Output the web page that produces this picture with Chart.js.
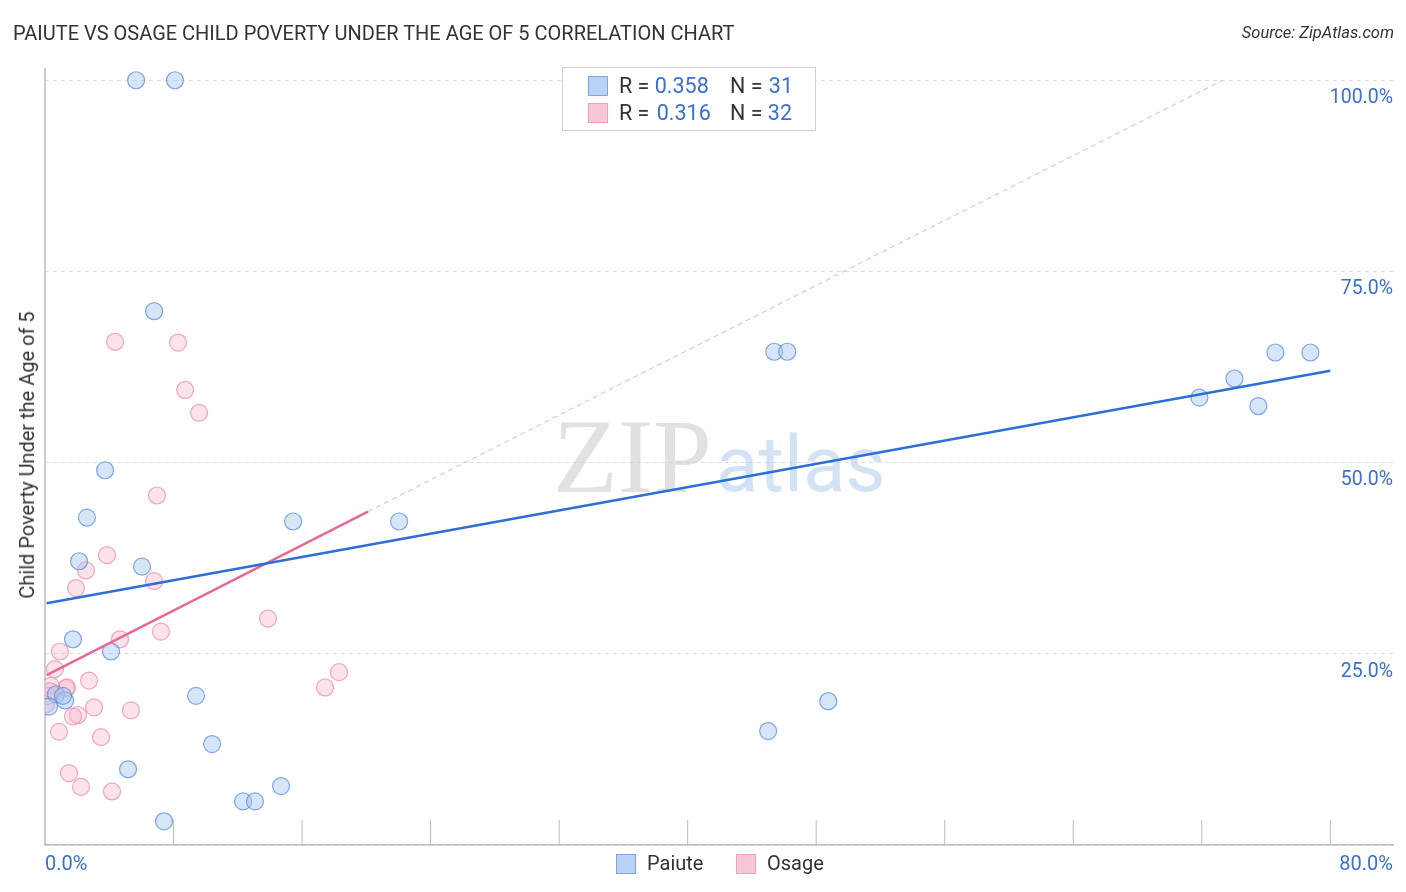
<!DOCTYPE html>
<html>
<head>
<meta charset="utf-8">
<script src="https://cdn.jsdelivr.net/npm/chart.js@4.4.1/dist/chart.umd.min.js"></script>
<style>
  body{margin:0;background:#fff;font-family:Roboto, "Open Sans", sans-serif;}
  #wrap{position:relative;width:1406px;height:892px;}
  #c{position:absolute;left:0;top:0;}
  .t{position:absolute;white-space:nowrap;}
  .sq{position:absolute;width:18px;height:18px;border:1px solid;}
  .blue{color:#3b6fd0;}
</style>
</head>
<body>
<div id="wrap">
  <canvas id="c" width="1406" height="892"></canvas>
  <div class="t" style="left:13px;top:21px;font-size:20px;color:#333;">PAIUTE VS OSAGE CHILD POVERTY UNDER THE AGE OF 5 CORRELATION CHART</div>
  <div class="t" style="right:12px;top:23px;font-size:16.5px;font-style:italic;color:#333;">Source: ZipAtlas.com</div>
  <div class="t" style="left:27px;top:455px;font-size:20px;color:#333;transform:translate(-50%,-50%) rotate(-90deg);">Child Poverty Under the Age of 5</div>

  <div style="position:absolute;left:562px;top:67px;width:252px;height:62px;border:1px solid #d0d0d0;background:rgba(255,255,255,0.9);"></div>
  <div class="sq" style="left:588px;top:76px;background:#b9d2f4;border-color:#7fa6e4;"></div>
  <div class="t" style="left:619px;top:73px;font-size:21.5px;color:#333;">R = <span class="blue">0.358</span></div>
  <div class="t" style="left:730px;top:73px;font-size:21.5px;color:#333;">N = <span class="blue" style="margin-left:1px">31</span></div>
  <div class="sq" style="left:588px;top:103px;background:#f9c6d5;border-color:#eea2b9;"></div>
  <div class="t" style="left:619px;top:100px;font-size:21.5px;color:#333;">R = <span class="blue" style="margin-left:2px">0.316</span></div>
  <div class="t" style="left:730px;top:100px;font-size:21.5px;color:#333;">N = <span class="blue">32</span></div>

  <div class="sq" style="left:616px;top:854px;background:#b9d2f4;border-color:#7fa6e4;"></div>
  <div class="t" style="left:647px;top:851px;font-size:20px;color:#333;">Paiute</div>
  <div class="sq" style="left:736px;top:854px;background:#f9c6d5;border-color:#eea2b9;"></div>
  <div class="t" style="left:767px;top:851px;font-size:20px;color:#333;">Osage</div>

  <div class="t blue" style="left:45px;top:851px;font-size:20px;">0.0%</div>
  <div class="t blue" style="right:13px;top:851px;font-size:20px;">80.0%</div>
</div>
<script>
// values (x = Paiute/Osage %, y = child poverty %)
const paiuteX = [5.67, 8.09, 6.79, 3.74, 2.61, 2.12, 6.04, 15.44, 22.04, 1.74, 4.11, 9.40, 10.40, 5.17, 12.33, 13.07, 14.69, 7.41, 45.39, 46.20, 48.75, 45.01, 71.85, 74.03, 75.52, 76.58, 78.76, 0.68, 1.25, 0.25, 1.12];
const paiuteY = [100, 100, 69.8, 49.0, 42.8, 37.1, 36.4, 42.3, 42.3, 26.9, 25.3, 19.5, 13.2, 9.9, 5.7, 5.7, 7.7, 3.1, 64.5, 64.5, 18.8, 14.9, 58.5, 61.0, 57.4, 64.4, 64.4, 19.7, 18.9, 18.1, 19.5];

const osageX = [4.36, 8.28, 8.72, 9.59, 6.97, 3.86, 2.55, 1.93, 6.79, 13.88, 7.22, 4.67, 0.93, 0.62, 18.30, 17.43, 2.74, 1.31, 1.37, 3.05, 5.35, 2.05, 1.74, 0.87, 3.49, 0.37, 1.49, 2.24, 4.17, 0.19, 0.31, 0.06];
const osageY = [65.8, 65.7, 59.5, 56.5, 45.7, 37.9, 35.9, 33.6, 34.5, 29.6, 27.9, 26.9, 25.3, 23.0, 22.6, 20.6, 21.5, 20.5, 20.6, 18.0, 17.6, 17.0, 16.8, 14.8, 14.1, 20.8, 9.4, 7.6, 7.0, 19.5, 20.1, 18.4];

// trend line end points
const paiuteTrendX = [0.1, 80];
const paiuteTrendY = [31.6, 62.0];
const osageTrendX = [0.1, 20.1];
const osageTrendY = [22.2, 43.6];
const osageDashX = [20.1, 73.3];
const osageDashY = [43.6, 100];

const xTickValues = [0, 8, 16, 24, 32, 40, 48, 56, 64, 72, 80];
const yTickValues = [0, 25, 50, 75, 100];

function pts(xs, ys){
  return xs.map((x, i) => ({x: x, y: ys[i]}));
}

const decor = {
  id: 'decor',
  beforeDatasetsDraw(chart){
    const ctx = chart.ctx;
    const a = chart.chartArea;
    const xs = chart.scales.x;
    ctx.save();
    // watermark
    ctx.textBaseline = 'alphabetic';
    ctx.font = '106px "Liberation Serif", serif';
    ctx.fillStyle = 'rgba(200,200,200,0.55)';
    ctx.fillText('ZIP', 553, 492);
    ctx.font = '78px Roboto, sans-serif';
    ctx.fillStyle = 'rgba(170,198,238,0.5)';
    ctx.fillText('atlas', 716, 491);
    // left axis line
    ctx.strokeStyle = '#bbbbbb';
    ctx.lineWidth = 1.5;
    ctx.beginPath();
    ctx.moveTo(a.left, a.top);
    ctx.lineTo(a.left, a.bottom);
    ctx.stroke();
    // short x tick marks
    ctx.lineWidth = 1;
    xs.ticks.forEach(t => {
      if(t.value === 0) return;
      const px = xs.getPixelForValue(t.value);
      ctx.beginPath();
      ctx.moveTo(px, a.bottom - 25);
      ctx.lineTo(px, a.bottom);
      ctx.stroke();
    });
    ctx.restore();
  }
};

new Chart(document.getElementById('c'), {
  type: 'scatter',
  data: {
    datasets: [
      {
        label: 'Paiute trend',
        type: 'line',
        data: pts(paiuteTrendX, paiuteTrendY),
        borderColor: '#2e6fd5',
        borderWidth: 2.5,
        pointRadius: 0,
        fill: false,
        order: 1
      },
      {
        label: 'Osage trend',
        type: 'line',
        data: pts(osageTrendX, osageTrendY),
        borderColor: '#e8689a',
        borderWidth: 2.5,
        pointRadius: 0,
        fill: false,
        order: 2
      },
      {
        label: 'Osage extension',
        type: 'line',
        data: pts(osageDashX, osageDashY),
        borderColor: 'rgba(232,140,170,0.7)',
        borderWidth: 1,
        borderDash: [5, 4],
        pointRadius: 0,
        fill: false,
        order: 3
      },
      {
        label: 'Paiute',
        data: pts(paiuteX, paiuteY),
        backgroundColor: 'rgba(165,198,240,0.45)',
        borderColor: 'rgba(90,140,220,0.75)',
        borderWidth: 1.2,
        pointRadius: 8.5,
        order: 4
      },
      {
        label: 'Osage',
        data: pts(osageX, osageY),
        backgroundColor: 'rgba(248,185,205,0.4)',
        borderColor: 'rgba(232,140,170,0.75)',
        borderWidth: 1.2,
        pointRadius: 8.5,
        order: 5
      }
    ]
  },
  options: {
    responsive: false,
    animation: false,
    layout: {padding: {left: 45, top: 68, right: 13, bottom: 47}},
    plugins: {legend: {display: false}, tooltip: {enabled: false}},
    scales: {
      x: {
        type: 'linear',
        min: 0,
        max: 83.9,
        afterBuildTicks: s => { s.ticks = xTickValues.map(v => ({value: v})); },
        grid: {display: false, drawTicks: false},
        ticks: {display: false},
        border: {display: true, color: '#bbbbbb', width: 1.5}
      },
      y: {
        type: 'linear',
        position: 'right',
        min: 0,
        max: 101.6,
        afterBuildTicks: s => { s.ticks = yTickValues.map(v => ({value: v})); },
        grid: {color: '#dddddd', lineWidth: 1, drawTicks: false},
        border: {display: false, dash: [4, 4]},
        ticks: {
          mirror: true,
          padding: 0,
          labelOffset: 18,
          color: '#3b6fd0',
          font: {size: 19.5, family: 'Roboto, sans-serif'},
          callback: v => v === 0 ? '' : v.toFixed(1) + '%'
        }
      }
    }
  },
  plugins: [decor]
});
</script>
</body>
</html>
